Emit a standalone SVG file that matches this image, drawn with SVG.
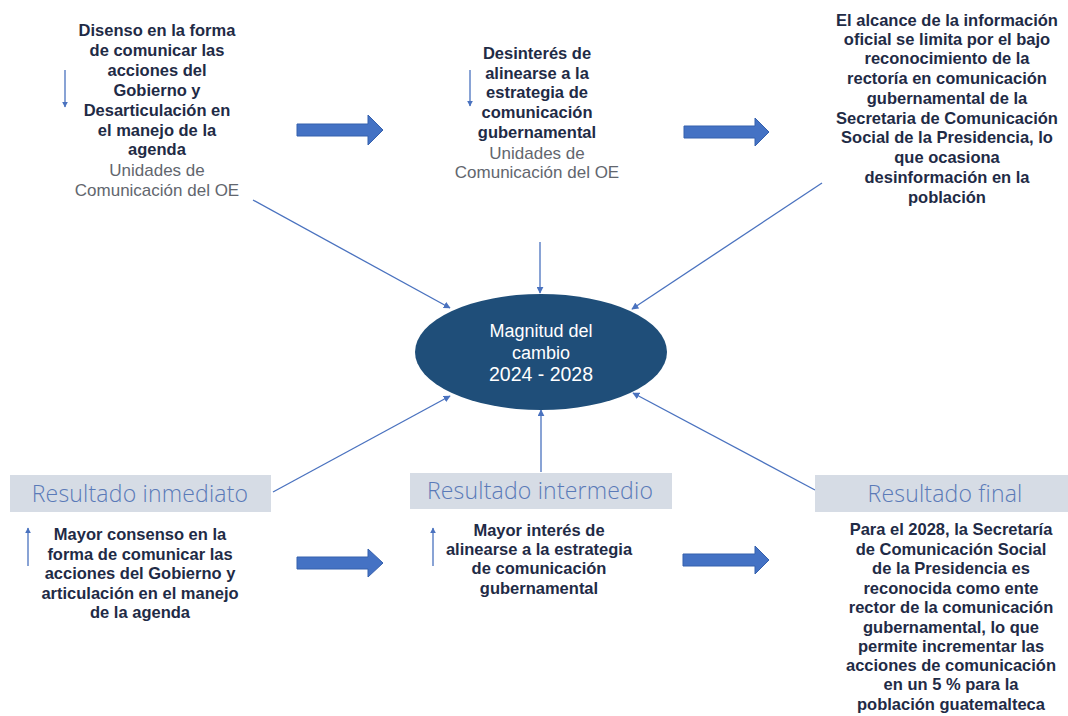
<svg xmlns="http://www.w3.org/2000/svg" width="1068" height="716" viewBox="0 0 1068 716">
<style>
.b{font-family:"Liberation Sans",Arial,sans-serif;font-weight:700;font-size:16.5px;fill:#1f2b46;text-anchor:middle}
.g{font-family:"Liberation Sans",Arial,sans-serif;font-weight:400;font-size:17px;fill:#62666e;text-anchor:middle}
.h{font-family:"Open Sans","Liberation Sans",sans-serif;font-weight:300;font-size:23px;fill:#5a7ab8;text-anchor:middle;letter-spacing:0.2px}
.w{font-family:"Liberation Sans",Arial,sans-serif;font-weight:400;font-size:18px;fill:#ffffff;text-anchor:middle}
.c{stroke:#4a72bf;stroke-width:1.3;fill:none}
.blk{fill:#4472c4;stroke:#3560ad;stroke-width:1}
.box{fill:#d6dce5}
</style>
<defs>
<marker id="ah" viewBox="0 0 10 10" refX="9" refY="5" markerWidth="7" markerHeight="7" markerUnits="userSpaceOnUse" orient="auto"><path d="M0,0 L10,5 L0,10 z" fill="#4a72bf"/></marker>
<marker id="as" viewBox="0 0 10 10" refX="9" refY="5" markerWidth="6" markerHeight="6" markerUnits="userSpaceOnUse" orient="auto"><path d="M0,0 L10,5 L0,10 z" fill="#4a72bf"/></marker>
</defs>
<rect width="1068" height="716" fill="#ffffff"/>

<g id="connectors">
<line class="c" x1="253" y1="200" x2="450" y2="308" marker-end="url(#ah)"/>
<line class="c" x1="540" y1="242" x2="540" y2="293" marker-end="url(#ah)"/>
<line class="c" x1="822" y1="183" x2="632" y2="309" marker-end="url(#ah)"/>
<line class="c" x1="273" y1="492" x2="450" y2="396" marker-end="url(#ah)"/>
<line class="c" x1="541" y1="472" x2="541" y2="410" marker-end="url(#ah)"/>
<line class="c" x1="815" y1="490" x2="633" y2="393" marker-end="url(#ah)"/>
<line class="c" x1="65" y1="70" x2="65" y2="107" marker-end="url(#as)"/>
<line class="c" x1="470" y1="70" x2="470" y2="106" marker-end="url(#as)"/>
<line class="c" x1="28" y1="566" x2="28" y2="528" marker-end="url(#as)"/>
<line class="c" x1="433" y1="566" x2="433" y2="528" marker-end="url(#as)"/>
<polygon class="blk" points="297,124 368,124 368,115 383,130 368,145 368,136 297,136"/>
<polygon class="blk" points="684,126 755,126 755,118 769,132 755,146 755,138 684,138"/>
<polygon class="blk" points="297,557 368,557 368,549 383,563 368,577 368,569 297,569"/>
<polygon class="blk" points="683,554 755,554 755,546 769,560 755,574 755,566 683,566"/>
</g>

<g id="n-disenso">
<text class="b" x="157" y="36">Disenso en la forma</text>
<text class="b" x="157" y="56">de comunicar las</text>
<text class="b" x="157" y="76">acciones del</text>
<text class="b" x="157" y="96">Gobierno y</text>
<text class="b" x="157" y="116">Desarticulación en</text>
<text class="b" x="157" y="136">el manejo de la</text>
<text class="b" x="157" y="155">agenda</text>
<text class="g" x="157" y="176">Unidades de</text>
<text class="g" x="157" y="196">Comunicación del OE</text>
</g>

<g id="n-desinteres">
<text class="b" x="537" y="59">Desinterés de</text>
<text class="b" x="537" y="79">alinearse a la</text>
<text class="b" x="537" y="98">estrategia de</text>
<text class="b" x="537" y="118">comunicación</text>
<text class="b" x="537" y="138">gubernamental</text>
<text class="g" x="537" y="159">Unidades de</text>
<text class="g" x="537" y="178">Comunicación del OE</text>
</g>

<g id="n-alcance">
<text class="b" x="947" y="26">El alcance de la información</text>
<text class="b" x="947" y="45">oficial se limita por el bajo</text>
<text class="b" x="947" y="64">reconocimiento de la</text>
<text class="b" x="947" y="84">rectoría en comunicación</text>
<text class="b" x="947" y="104">gubernamental de la</text>
<text class="b" x="947" y="124">Secretaria de Comunicación</text>
<text class="b" x="947" y="143">Social de la Presidencia, lo</text>
<text class="b" x="947" y="163">que ocasiona</text>
<text class="b" x="947" y="183">desinformación en la</text>
<text class="b" x="947" y="203">población</text>
</g>

<g id="n-magnitud">
<ellipse cx="541" cy="352" rx="126" ry="58" fill="#1f4e79"/>
<text class="w" x="541" y="337">Magnitud del</text>
<text class="w" x="541" y="359">cambio</text>
<text class="w" x="541" y="381" style="font-size:19.5px">2024 - 2028</text>
</g>

<g id="n-inmediato">
<rect class="box" x="10" y="475" width="261" height="37"/>
<text class="h" x="140" y="502">Resultado inmediato</text>
<text class="b" x="140" y="540">Mayor consenso en la</text>
<text class="b" x="140" y="560">forma de comunicar las</text>
<text class="b" x="140" y="579">acciones del Gobierno y</text>
<text class="b" x="140" y="599">articulación en el manejo</text>
<text class="b" x="140" y="618">de la agenda</text>
</g>

<g id="n-intermedio">
<rect class="box" x="410" y="473" width="262" height="36"/>
<text class="h" x="540" y="499">Resultado intermedio</text>
<text class="b" x="539" y="536">Mayor interés de</text>
<text class="b" x="539" y="555">alinearse a la estrategia</text>
<text class="b" x="539" y="574">de comunicación</text>
<text class="b" x="539" y="594">gubernamental</text>
</g>

<g id="n-final">
<rect class="box" x="815" y="475" width="253" height="37"/>
<text class="h" x="945" y="502">Resultado final</text>
<text class="b" x="951" y="535">Para el 2028, la Secretaría</text>
<text class="b" x="951" y="555">de Comunicación Social</text>
<text class="b" x="951" y="574">de la Presidencia es</text>
<text class="b" x="951" y="594">reconocida como ente</text>
<text class="b" x="951" y="613">rector de la comunicación</text>
<text class="b" x="951" y="633">gubernamental, lo que</text>
<text class="b" x="951" y="652">permite incrementar las</text>
<text class="b" x="951" y="671">acciones de comunicación</text>
<text class="b" x="951" y="690">en un 5 % para la</text>
<text class="b" x="951" y="710">población guatemalteca</text>
</g>
</svg>
